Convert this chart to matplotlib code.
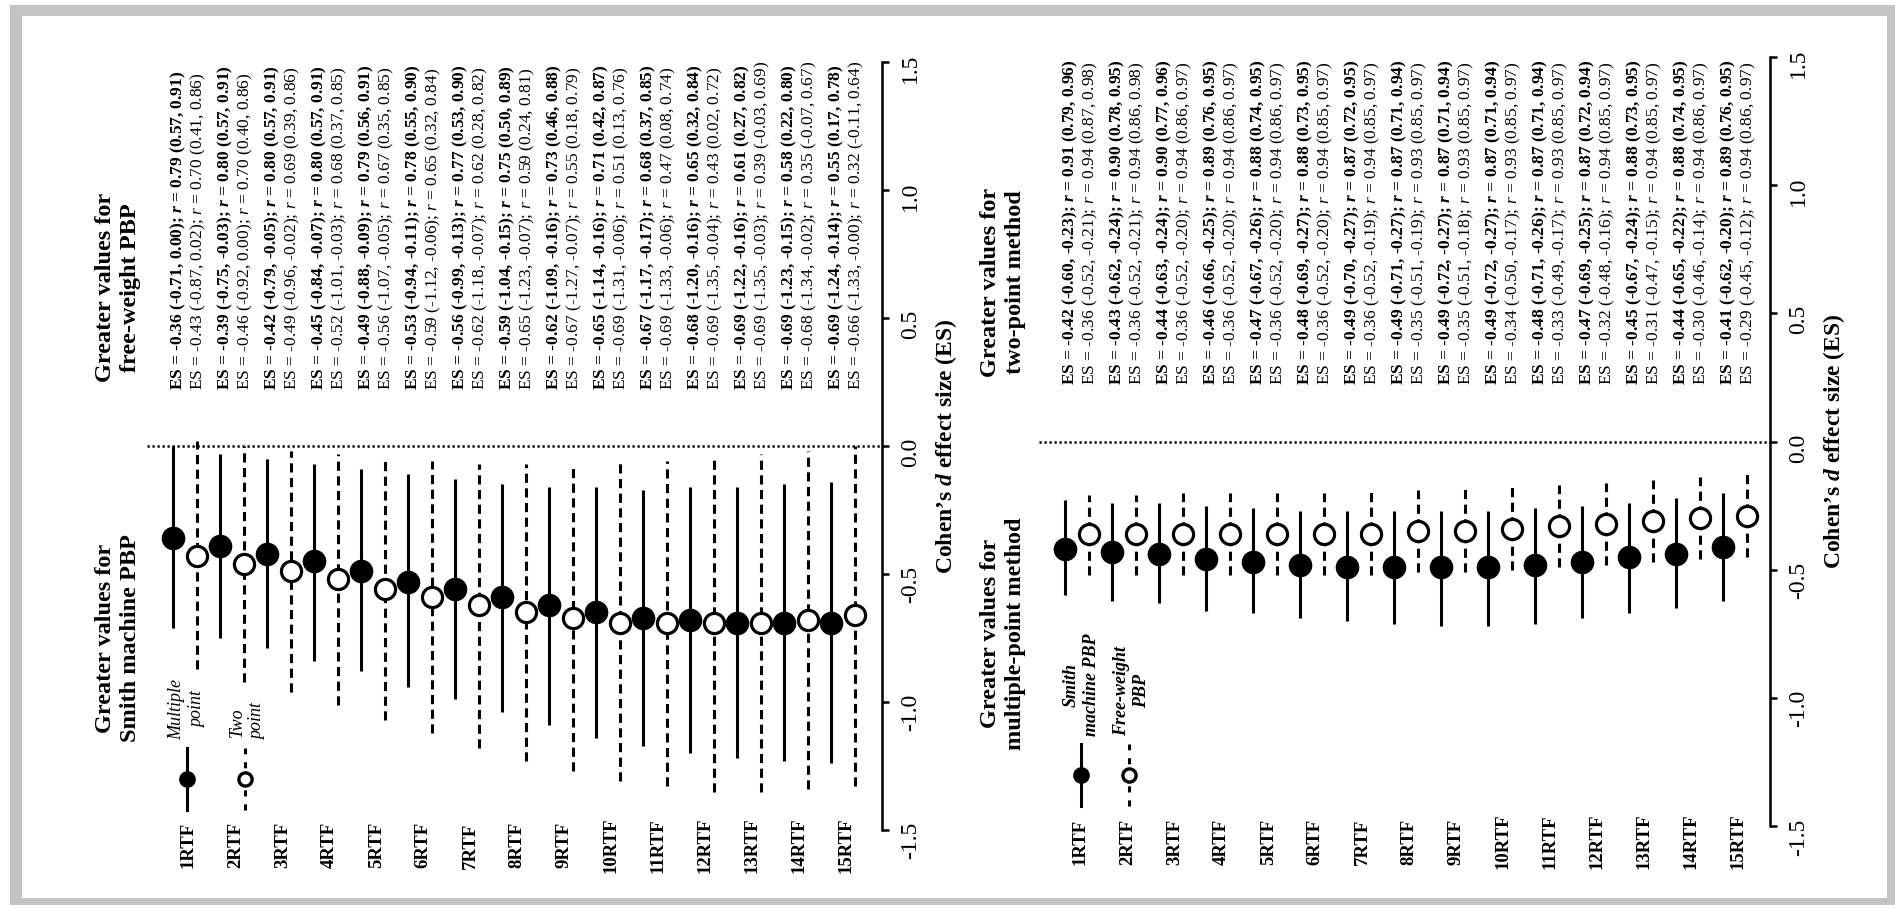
import numpy as np
import matplotlib
matplotlib.use("Agg")
import matplotlib.pyplot as plt
from matplotlib.patches import Rectangle

plt.rcParams["font.family"] = "Liberation Serif"
plt.rcParams["mathtext.fontset"] = "custom"
plt.rcParams["mathtext.rm"] = "Liberation Serif"
plt.rcParams["mathtext.it"] = "Liberation Serif:italic"
plt.rcParams["mathtext.bf"] = "Liberation Serif:bold"
plt.rcParams["mathtext.bfit"] = "Liberation Serif:italic:bold"
plt.rcParams["axes.unicode_minus"] = False

# ── Data ─────────────────────────────────────────────────────
RTF_LABELS = ["1RTF", "2RTF", "3RTF", "4RTF", "5RTF", "6RTF", "7RTF", "8RTF",
              "9RTF", "10RTF", "11RTF", "12RTF", "13RTF", "14RTF", "15RTF"]
ES_TICKS = [-1.5, -1.0, -0.5, 0.0, 0.5, 1.0, 1.5]

# Left panel: Smith machine vs free-weight PBP, multiple-point method
MULTI_ES = [-0.36, -0.39, -0.42, -0.45, -0.49, -0.53, -0.56, -0.59, -0.62, -0.65, -0.67, -0.68, -0.69, -0.69, -0.69]
MULTI_LO = [-0.71, -0.75, -0.79, -0.84, -0.88, -0.94, -0.99, -1.04, -1.09, -1.14, -1.17, -1.20, -1.22, -1.23, -1.24]
MULTI_HI = [0.00, -0.03, -0.05, -0.07, -0.09, -0.11, -0.13, -0.15, -0.16, -0.16, -0.17, -0.16, -0.16, -0.15, -0.14]
MULTI_R = [0.79, 0.80, 0.80, 0.80, 0.79, 0.78, 0.77, 0.75, 0.73, 0.71, 0.68, 0.65, 0.61, 0.58, 0.55]
MULTI_R_LO = [0.57, 0.57, 0.57, 0.57, 0.56, 0.55, 0.53, 0.50, 0.46, 0.42, 0.37, 0.32, 0.27, 0.22, 0.17]
MULTI_R_HI = [0.91, 0.91, 0.91, 0.91, 0.91, 0.90, 0.90, 0.89, 0.88, 0.87, 0.85, 0.84, 0.82, 0.80, 0.78]

# Left panel: two-point method
TWO_ES = [-0.43, -0.46, -0.49, -0.52, -0.56, -0.59, -0.62, -0.65, -0.67, -0.69, -0.69, -0.69, -0.69, -0.68, -0.66]
TWO_LO = [-0.87, -0.92, -0.96, -1.01, -1.07, -1.12, -1.18, -1.23, -1.27, -1.31, -1.33, -1.35, -1.35, -1.34, -1.33]
TWO_HI = [0.02, 0.00, -0.02, -0.03, -0.05, -0.06, -0.07, -0.07, -0.07, -0.06, -0.06, -0.04, -0.03, -0.02, -0.00]
TWO_R = [0.70, 0.70, 0.69, 0.68, 0.67, 0.65, 0.62, 0.59, 0.55, 0.51, 0.47, 0.43, 0.39, 0.35, 0.32]
TWO_R_LO = [0.41, 0.40, 0.39, 0.37, 0.35, 0.32, 0.28, 0.24, 0.18, 0.13, 0.08, 0.02, -0.03, -0.07, -0.11]
TWO_R_HI = [0.86, 0.86, 0.86, 0.85, 0.85, 0.84, 0.82, 0.81, 0.79, 0.76, 0.74, 0.72, 0.69, 0.67, 0.64]

# Right panel: multiple-point vs two-point method, Smith machine PBP
SMITH_ES = [-0.42, -0.43, -0.44, -0.46, -0.47, -0.48, -0.49, -0.49, -0.49, -0.49, -0.48, -0.47, -0.45, -0.44, -0.41]
SMITH_LO = [-0.60, -0.62, -0.63, -0.66, -0.67, -0.69, -0.70, -0.71, -0.72, -0.72, -0.71, -0.69, -0.67, -0.65, -0.62]
SMITH_HI = [-0.23, -0.24, -0.24, -0.25, -0.26, -0.27, -0.27, -0.27, -0.27, -0.27, -0.26, -0.25, -0.24, -0.22, -0.20]
SMITH_R = [0.91, 0.90, 0.90, 0.89, 0.88, 0.88, 0.87, 0.87, 0.87, 0.87, 0.87, 0.87, 0.88, 0.88, 0.89]
SMITH_R_LO = [0.79, 0.78, 0.77, 0.76, 0.74, 0.73, 0.72, 0.71, 0.71, 0.71, 0.71, 0.72, 0.73, 0.74, 0.76]
SMITH_R_HI = [0.96, 0.95, 0.96, 0.95, 0.95, 0.95, 0.95, 0.94, 0.94, 0.94, 0.94, 0.94, 0.95, 0.95, 0.95]

# Right panel: free-weight PBP
FREE_ES = [-0.36, -0.36, -0.36, -0.36, -0.36, -0.36, -0.36, -0.35, -0.35, -0.34, -0.33, -0.32, -0.31, -0.30, -0.29]
FREE_LO = [-0.52, -0.52, -0.52, -0.52, -0.52, -0.52, -0.52, -0.51, -0.51, -0.50, -0.49, -0.48, -0.47, -0.46, -0.45]
FREE_HI = [-0.21, -0.21, -0.20, -0.20, -0.20, -0.20, -0.19, -0.19, -0.18, -0.17, -0.17, -0.16, -0.15, -0.14, -0.12]
FREE_R = [0.94, 0.94, 0.94, 0.94, 0.94, 0.94, 0.94, 0.93, 0.93, 0.93, 0.93, 0.94, 0.94, 0.94, 0.94]
FREE_R_LO = [0.87, 0.86, 0.86, 0.86, 0.86, 0.85, 0.85, 0.85, 0.85, 0.85, 0.85, 0.85, 0.85, 0.86, 0.86]
FREE_R_HI = [0.98, 0.98, 0.97, 0.97, 0.97, 0.97, 0.97, 0.97, 0.97, 0.97, 0.97, 0.97, 0.97, 0.97, 0.97]

# ── Layout (pixels of the 1895x908 canvas) ───────────────────
W, H = 1895, 908
HALF = 23.5          # px between a filled and an open point


def stat_text(es, lo, hi, r, rlo, rhi, bold):
    rsym = r"$\mathbfit{r}$" if bold else r"$r$"
    return f"ES = {es:.2f} ({lo:.2f}, {hi:.2f}); {rsym} = {r:.2f} ({rlo:.2f}, {rhi:.2f})"


def draw_panel(px_left, px_spine, p0_px, es0_px, px_per_es, a, b,
               titles, title_px, legend_texts, legend_px, legend_bold):
    ax = fig.add_axes([px_left / W, 0, (px_spine - px_left) / W, 1])
    ax.patch.set_visible(False)
    ax.set_xlim((px_left - p0_px) / HALF, (px_spine - p0_px) / HALF)
    ax.set_ylim((es0_px - H) / px_per_es, es0_px / px_per_es)

    def p_of(px):
        return (px - p0_px) / HALF

    n = len(RTF_LABELS)
    xa = np.arange(n) * 2.0
    xb = xa + 1.0

    # zero reference line
    ax.hlines(0, p_of(p0_px - 26), p_of(px_spine), colors="black",
              linestyles=(0, (0.9, 1.1)), linewidth=1.8, zorder=1)

    # confidence intervals + points
    ax.vlines(xa, a["lo"], a["hi"], colors="black", linewidth=2.2, zorder=2)
    ax.vlines(xb, b["lo"], b["hi"], colors="black", linewidth=2.2,
              linestyles=(0, (3.0, 1.8)), zorder=2)
    ax.plot(xa, a["es"], "o", ms=15.5, mfc="black", mec="black", mew=1.5,
            linestyle="none", zorder=4)
    ax.plot(xb, b["es"], "o", ms=14.5, mfc="white", mec="black", mew=2.3,
            linestyle="none", zorder=4)

    # ES / r annotations
    for i in range(n):
        ax.text(xa[i] + 0.25, 0.22,
                stat_text(a["es"][i], a["lo"][i], a["hi"][i],
                          a["r"][i], a["rlo"][i], a["rhi"][i], True),
                rotation=90, rotation_mode="anchor", ha="left", va="center",
                fontsize=12.5, fontweight="bold")
        ax.text(xa[i] + 1.1, 0.22,
                stat_text(b["es"][i], b["lo"][i], b["hi"][i],
                          b["r"][i], b["rlo"][i], b["rhi"][i], False),
                rotation=90, rotation_mode="anchor", ha="left", va="center",
                fontsize=12.5)

    # category labels
    for i, lab in enumerate(RTF_LABELS):
        ax.text(xa[i] + 0.65, -1.56, lab, rotation=90, ha="center",
                va="center", fontsize=13.5, fontweight="bold", clip_on=False)

    # panel titles
    ax.text(p_of(title_px), 0.62, titles[0], rotation=90, ha="center",
            va="center", multialignment="center", fontsize=17.5,
            fontweight="bold", linespacing=1.2)
    ax.text(p_of(title_px), -0.75, titles[1], rotation=90, ha="center",
            va="center", multialignment="center", fontsize=17.5,
            fontweight="bold", linespacing=1.2)

    # hand-made legend
    lx_a, lx_b = p_of(legend_px[0]), p_of(legend_px[1])
    ax.plot([lx_a, lx_a], [-1.42, -1.18], color="black", linewidth=2.2)
    ax.plot([lx_a], [-1.30], "o", ms=11, mfc="black", mec="black")
    ax.plot([lx_b, lx_b], [-1.42, -1.18], color="black", linewidth=2.2,
            linestyle=(0, (2.0, 2.6)))
    ax.plot([lx_b], [-1.30], "o", ms=9.5, mfc="white", mec="black", mew=2.4)
    ax.text(lx_a, -1.15, legend_texts[0], rotation=90, ha="center",
            va="bottom", multialignment="center", fontsize=13,
            style="italic", fontweight=legend_bold, linespacing=1.25)
    ax.text(lx_b + 0.1, -1.15, legend_texts[1], rotation=90, ha="center",
            va="bottom", multialignment="center", fontsize=13,
            style="italic", fontweight=legend_bold, linespacing=1.25)

    # ES axis on the right
    for side in ["top", "left", "bottom"]:
        ax.spines[side].set_visible(False)
    ax.spines["right"].set_bounds(-1.5, 1.5)
    ax.spines["right"].set_linewidth(1.8)
    ax.set_xticks([])
    ax.yaxis.tick_right()
    ax.set_yticks(ES_TICKS)
    ax.set_yticklabels([f"{t:.1f}" for t in ES_TICKS])
    ax.tick_params(axis="y", direction="out", length=5, width=1.8,
                   labelsize=17, pad=8, labelrotation=90)
    ax.text(p_of(px_spine + 64), 0.0, r"Cohen’s $\mathbfit{d}$ effect size (ES)",
            rotation=90, ha="center", va="center", fontsize=17,
            fontweight="bold", clip_on=False)
    return ax


fig = plt.figure(figsize=(W / 100, H / 100), dpi=100)
fig.patch.set_facecolor("white")

# grey frame around the whole figure (behind the panels)
fig.patches.append(Rectangle((10 / W, 3 / H), 1 - 10 / W, 900 / H,
                             transform=fig.transFigure, facecolor="#c3c3c3",
                             edgecolor="none", zorder=-2))
fig.patches.append(Rectangle((22 / W, 10 / H), 1865 / W, 882 / H,
                             transform=fig.transFigure, facecolor="white",
                             edgecolor="none", zorder=-1))

left_a = dict(es=MULTI_ES, lo=MULTI_LO, hi=MULTI_HI, r=MULTI_R, rlo=MULTI_R_LO, rhi=MULTI_R_HI)
left_b = dict(es=TWO_ES, lo=TWO_LO, hi=TWO_HI, r=TWO_R, rlo=TWO_R_LO, rhi=TWO_R_HI)
right_a = dict(es=SMITH_ES, lo=SMITH_LO, hi=SMITH_HI, r=SMITH_R, rlo=SMITH_R_LO, rhi=SMITH_R_HI)
right_b = dict(es=FREE_ES, lo=FREE_LO, hi=FREE_HI, r=FREE_R, rlo=FREE_R_LO, rhi=FREE_R_HI)

draw_panel(40, 882, 173, 446, 256, left_a, left_b,
           ["Greater values for\nfree-weight PBP",
            "Greater values for\nSmith machine PBP"], 118,
           ["Multiple\npoint", "Two\npoint"], (187, 245), "normal")

draw_panel(940, 1770, 1065, 441.5, 256.5, right_a, right_b,
           ["Greater values for\ntwo-point method",
            "Greater values for\nmultiple-point method"], 1003,
           ["Smith\nmachine PBP", "Free-weight\nPBP"], (1081, 1129), "bold")

fig.savefig("out.png", dpi=100)
